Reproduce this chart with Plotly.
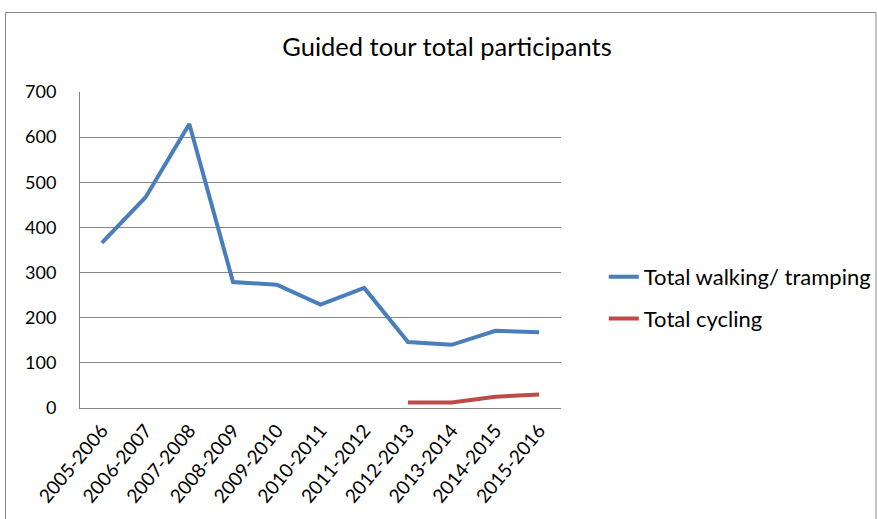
import plotly.graph_objects as go

categories = ["2005-2006", "2006-2007", "2007-2008", "2008-2009", "2009-2010", "2010-2011",
              "2011-2012", "2012-2013", "2013-2014", "2014-2015", "2015-2016"]
walking = [366, 467, 629, 279, 273, 229, 266, 146, 140, 171, 168]
cycling = [None, None, None, None, None, None, None, 12, 12, 25, 30]

FONT = "Lato, 'Open Sans', sans-serif"

fig = go.Figure()
fig.add_trace(go.Scatter(x=categories, y=walking, mode="lines", name="Total walking/ tramping",
                         line=dict(color="#4A7EBB", width=4), legendgroup="a"))
fig.add_trace(go.Scatter(x=categories, y=cycling, mode="lines", name="Total cycling",
                         line=dict(color="#BE4B48", width=4), legendgroup="b"))

fig.update_layout(
    width=877, height=519,
    margin=dict(l=80, r=316, t=92, b=111, autoexpand=False),
    paper_bgcolor="white", plot_bgcolor="white",
    font=dict(family=FONT, color="black", size=18),
    title=dict(text="Guided tour total participants", x=447 / 877, xref="container", xanchor="center",
               y=1 - 47 / 519, yref="container", yanchor="middle",
               font=dict(size=25.5, family=FONT, color="black")),
    showlegend=True,
    legend=dict(x=1.089, xanchor="left", y=0.481, yanchor="top", traceorder="grouped",
                tracegroupgap=10, font=dict(size=22, family=FONT), bgcolor="rgba(0,0,0,0)"),
    xaxis=dict(type="category", range=[-0.5, 10.5], tickangle=-50, showgrid=False,
               showline=True, linecolor="#868686", linewidth=1, ticks="",
               ticklabelstandoff=3, tickfont=dict(size=19, family=FONT)),
    yaxis=dict(range=[0, 700], dtick=100, showgrid=True, gridcolor="#868686", gridwidth=1,
               showline=True, linecolor="#868686", linewidth=1, zeroline=False, ticks="",
               ticklabelstandoff=19, tickfont=dict(size=18, family=FONT)),
)

fig.add_shape(type="rect", xref="paper", yref="paper",
              x0=(5.5 - 80) / 481, x1=(876 - 80) / 481, y0=-0.5, y1=(408 - 12.5) / 316,
              line=dict(color="#868686", width=1), fillcolor="rgba(0,0,0,0)", layer="below")

fig.write_html("out.html", config={"displayModeBar": False},
               post_script="document.body.style.margin='0';")
